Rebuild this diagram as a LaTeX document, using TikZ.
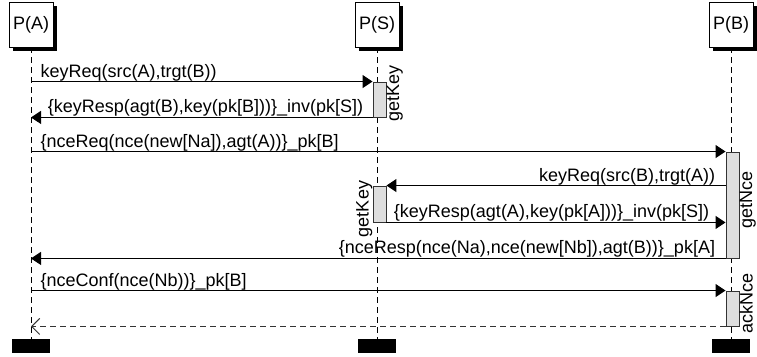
\documentclass[tikz,border=0pt]{standalone}
\usepackage{fontspec}
\setmainfont{Liberation Sans}
\usetikzlibrary{arrows.meta,shadows}
\begin{document}
\begin{tikzpicture}[x=1pt,y=-1pt,
  lbl/.style={font=\fontsize{18}{21}\selectfont, inner sep=0pt},
  head/.style={lbl, draw=black, line width=0.8pt, fill=white, minimum width=44pt, minimum height=45pt,
    general shadow={fill=black, shadow xshift=4pt, shadow yshift=-4pt}},
  bar/.style={fill=black, draw=none, minimum width=38pt, minimum height=14pt, inner sep=0pt},
  life/.style={line width=0.9pt, dash pattern=on 6pt off 4pt},
  act/.style={draw=black!80, line width=0.9pt, fill=black!13, minimum width=13pt, inner sep=0pt},
  msg/.style={line width=1pt, -{Triangle[length=10pt,width=13pt]}},
  ret/.style={line width=1pt, black!80, dash pattern=on 6pt off 4pt, -{Straight Barb[length=8pt,width=16pt,line width=1pt]}},
  lblL/.style={lbl, anchor=base west},
  lblR/.style={lbl, anchor=base east},
  rot/.style={lbl, rotate=90}]
\useasboundingbox (0,0) rectangle (757,356);
% heads
\node[head] (PA) at (31,24.5) {P(A)};
\node[head] (PS) at (377,24.5) {P(S)};
\node[head] (PB) at (731,24.5) {P(B)};
% bottom bars
\node[bar] (barA) at (31,346) {};
\node[bar] (barS) at (377,346) {};
\node[bar] (barB) at (731,346) {};
% lifelines
\draw[life] (PA.south) -- (barA.north);
\draw[life] (PS.south) -- (barS.north);
\draw[life] (PB.south) -- (barB.north);
\coordinate (Al) at (31,0);
% activations
\node[act, minimum height=35pt] (s1) at (379.5,99.5) {};
\node[act, minimum height=36pt] (s2) at (379.5,204) {};
\node[act, minimum height=106pt] (b1) at (732.5,205) {};
\node[act, minimum height=35pt] (b2) at (732.5,308.5) {};
% activation labels
\node[rot, anchor=north, xshift=6pt] (l1) at (s1.east) {getKey};
\node[rot, anchor=south, xshift=-5pt] (l2) at (s2.west) {getKey};
\node[rot, anchor=north, xshift=5pt] (l3) at (b1.east) {getNce};
\node[rot, anchor=north, xshift=5pt] (l4) at (b2.east) {ackNce};
% messages
\draw[msg] (Al |- s1.north) -- (s1.north west)
  node[lblL, pos=0, xshift=9pt, yshift=4.5pt] (t1) {keyReq(src(A),trgt(B))};
\draw[msg] (s1.south west) -- (Al |- s1.south)
  node[lblR, pos=0, xshift=-9pt, yshift=4.5pt] (t2) {\{keyResp(agt(B),key(pk[B]))\}\_inv(pk[S])};
\draw[msg] (Al |- b1.north) -- (b1.north west)
  node[lblL, pos=0, xshift=9pt, yshift=4.5pt] (t3) {\{nceReq(nce(new[Na]),agt(A))\}\_pk[B]};
\draw[msg] (b1.west |- s2.north) -- (s2.north east)
  node[lblR, pos=0, xshift=-10pt, yshift=4.5pt] (t4) {keyReq(src(B),trgt(A))};
\draw[msg] (s2.south east) -- (b1.west |- s2.south)
  node[lblL, pos=0, xshift=7pt, yshift=4.5pt] (t5) {\{keyResp(agt(A),key(pk[A]))\}\_inv(pk[S])};
\draw[msg] (b1.south west) -- (Al |- b1.south)
  node[lblR, pos=0, xshift=-10pt, yshift=4.5pt] (t6) {\{nceResp(nce(Na),nce(new[Nb]),agt(B))\}\_pk[A]};
\draw[msg] (Al |- b2.north) -- (b2.north west)
  node[lblL, pos=0, xshift=9pt, yshift=4.5pt] (t7) {\{nceConf(nce(Nb))\}\_pk[B]};
\draw[ret] (b2.south west) -- (Al |- b2.south);
\end{tikzpicture}
\end{document}
